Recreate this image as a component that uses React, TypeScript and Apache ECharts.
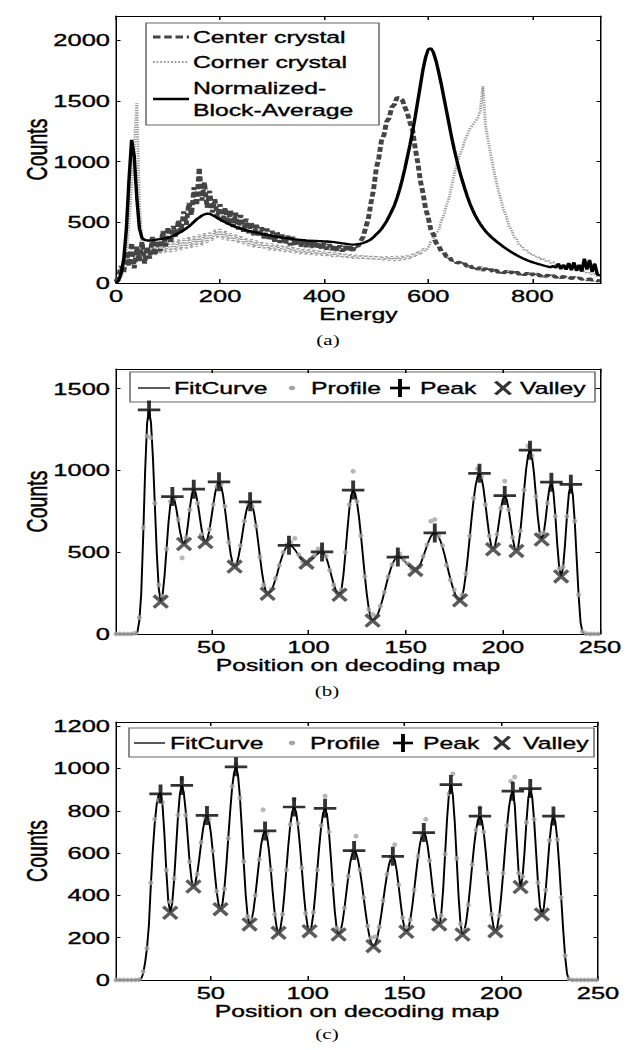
import React, { useEffect, useRef } from "react";
import * as echarts from "echarts";

// The reference figure is stretched horizontally; the chart is drawn in a
// narrower box and scaled back to the page width.
const S = 1.5;
const PAGE_W = 630;
const PAGE_H = 1050;
const CW = PAGE_W / S;
const X = (p: number) => p / S;
const FONT = "'Liberation Sans', Arial, Helvetica, sans-serif";
const SERIF = "'Liberation Serif', 'Times New Roman', serif";

// ---------- (a) energy spectra ----------
const energyStep = 5; // keV per sample, samples start at 0
const energyTicks = [0, 200, 400, 600, 800];
const countsTicksA = [0, 500, 1000, 1500, 2000];
const centerCrystal = [
  10, 60, 140, 90, 260, 140, 330, 120, 300, 180,
  340, 160, 300, 200, 380, 230, 350, 260, 430, 300,
  460, 330, 470, 380, 520, 420, 590, 480, 660, 560,
  790, 640, 950, 680, 830, 620, 760, 580, 690, 540,
  650, 500, 620, 480, 600, 460, 580, 440, 560, 420,
  530, 410, 500, 390, 480, 380, 460, 360, 450, 350,
  430, 340, 420, 330, 400, 320, 390, 310, 380, 305,
  370, 300, 360, 295, 350, 290, 345, 285, 335, 280,
  330, 275, 320, 270, 315, 265, 310, 260, 305, 258,
  300, 265, 310, 300, 345, 380, 460, 530, 660, 770,
  940, 1030, 1170, 1220, 1330, 1360, 1450, 1470, 1530, 1520,
  1510, 1450, 1400, 1320, 1260, 1110, 990, 840, 740, 610,
  540, 440, 400, 330, 310, 260, 255, 215, 220, 185,
  190, 165, 172, 148, 160, 135, 148, 122, 138, 112,
  128, 104, 120, 96, 114, 90, 108, 86, 102, 82,
  98, 78, 94, 74, 90, 70, 86, 66, 82, 62,
  78, 60, 74, 56, 70, 52, 66, 49, 62, 46,
  58, 43, 55, 40, 50, 37, 46, 33, 42, 30,
  38, 27, 34, 24, 30, 20, 18,
];
const cornerCrystal = [
  5, 15, 50, 120, 260, 500, 800, 1100, 1480, 650,
  330, 220, 290, 210, 300, 230, 320, 240, 330, 250,
  340, 250, 350, 260, 360, 270, 370, 280, 380, 290,
  390, 300, 400, 310, 410, 330, 420, 350, 440, 370,
  450, 360, 430, 350, 410, 340, 400, 330, 390, 320,
  370, 305, 360, 295, 350, 285, 340, 280, 330, 270,
  325, 265, 315, 260, 310, 255, 305, 250, 300, 245,
  290, 240, 285, 235, 280, 230, 275, 228, 270, 225,
  265, 220, 260, 215, 255, 212, 250, 208, 245, 205,
  240, 200, 235, 198, 232, 195, 230, 192, 228, 190,
  225, 188, 222, 186, 220, 185, 220, 183, 222, 185,
  225, 190, 232, 200, 245, 215, 262, 235, 285, 265,
  290, 340, 350, 410, 430, 510, 560, 640, 700, 800,
  900, 980, 1050, 1100, 1170, 1220, 1270, 1300, 1330, 1360,
  1420, 1620, 1300, 1180, 1060, 950, 850, 760, 680, 600,
  550, 470, 440, 380, 360, 310, 305, 268, 266, 238,
  240, 218, 220, 198, 204, 182, 188, 166, 172, 152,
  158, 138, 146, 126, 134, 114, 122, 102, 110, 90,
  98, 80, 86, 68, 74, 56, 54,
];
const blockAverage = [
  0, 20, 80, 200, 450, 850, 1180, 1050, 700, 450,
  370, 355, 350, 350, 352, 355, 360, 362, 365, 368,
  372, 380, 390, 400, 410, 422, 435, 450, 465, 485,
  505, 525, 540, 555, 565, 572, 570, 560, 548, 535,
  522, 510, 500, 490, 480, 470, 462, 455, 448, 442,
  436, 430, 425, 420, 415, 410, 405, 400, 396, 392,
  388, 384, 380, 377, 374, 371, 368, 365, 362, 360,
  357, 355, 353, 351, 350, 348, 347, 346, 345, 344,
  343, 342, 340, 338, 336, 333, 330, 327, 324, 321,
  318, 317, 318, 320, 324, 330, 338, 348, 360, 378,
  400, 420, 445, 475, 510, 550, 595, 640, 700, 770,
  850, 940, 1040, 1140, 1250, 1370, 1500, 1630, 1760, 1860,
  1925, 1935, 1900, 1830, 1740, 1640, 1530, 1420, 1310, 1200,
  1100, 1010, 925, 850, 780, 715, 655, 605, 560, 520,
  486, 455, 428, 404, 383, 364, 347, 330, 313, 297,
  282, 268, 254, 241, 229, 218, 207, 197, 188, 180,
  172, 165, 158, 152, 146, 140, 135, 130, 140, 125,
  160, 115, 150, 110, 165, 105, 170, 100, 150, 95,
  200, 110, 190, 90, 160, 70, 61,
];

// ---------- (b) and (c) decoding-map profiles ----------
const positionTicks = [50, 100, 150, 200, 250];
const profileStep = 2; // profile samples at positions 1, 3, 5, ...
const countsTicksB = [0, 500, 1000, 1500];
const countsTicksC = [0, 200, 400, 600, 800, 1000, 1200];

// FitCurve, positions 1..250
const fitCurveB = [
  0, 0, 0, 0, 0, 0, 0, 0, 0, 1,
  3, 10, 80, 250, 600, 1000, 1290, 1370, 1291, 1077,
  784, 491, 277, 198, 241, 359, 519, 680, 797, 840,
  821, 768, 695, 623, 569, 550, 582, 666, 769, 853,
  885, 863, 804, 724, 643, 584, 562, 580, 631, 705,
  787, 861, 912, 930, 910, 854, 770, 671, 572, 488,
  432, 412, 427, 470, 534, 610, 686, 750, 793, 808,
  791, 742, 668, 576, 478, 386, 312, 263, 246, 252,
  269, 297, 332, 370, 418, 456, 491, 519, 536, 542,
  539, 530, 516, 498, 480, 462, 448, 439, 436, 439,
  446, 456, 469, 482, 492, 499, 502, 494, 471, 437,
  394, 348, 305, 271, 248, 240, 271, 360, 489, 631,
  760, 849, 880, 861, 804, 716, 605, 481, 357, 246,
  158, 101, 82, 88, 104, 130, 166, 206, 252, 300,
  346, 386, 421, 448, 464, 470, 468, 461, 451, 438,
  424, 412, 401, 394, 392, 397, 413, 439, 470, 505,
  540, 571, 597, 613, 618, 612, 594, 566, 529, 486,
  438, 386, 338, 295, 258, 230, 212, 206, 225, 280,
  366, 474, 594, 714, 822, 908, 963, 982, 959, 895,
  801, 699, 605, 541, 518, 540, 600, 682, 764, 824,
  846, 823, 762, 677, 593, 531, 508, 538, 624, 748,
  884, 1008, 1094, 1124, 1087, 988, 851, 715, 615, 578,
  611, 699, 807, 895, 928, 873, 729, 551, 407, 352,
  405, 546, 721, 862, 915, 854, 689, 462, 236, 71,
  10, 3, 1, 0, 0, 0, 0, 0, 0, 0,
];
const profileB = [
  0, 0, 0, 0, 0, 5, 100, 650, 1210, 1200,
  800, 300, 230, 520, 810, 830, 700, 465, 590, 760,
  880, 800, 610, 560, 640, 790, 900, 915, 780, 560,
  430, 425, 540, 690, 800, 780, 660, 470, 300, 250,
  275, 340, 420, 500, 545, 560, 585, 485, 440, 430,
  455, 480, 520, 500, 475, 390, 300, 245, 270, 500,
  790, 995, 810, 600, 350, 150, 120, 110, 170, 255,
  350, 425, 470, 490, 455, 430, 400, 395, 410, 475,
  545, 690, 700, 600, 540, 420, 330, 270, 215, 240,
  370, 600, 830, 1010, 960, 790, 600, 530, 610, 770,
  935, 760, 590, 520, 630, 880, 1150, 1090, 840, 610,
  620, 800, 925, 720, 400, 410, 720, 900, 690, 240,
  15, 2, 0, 0, 0,
];
const peakPositionsB = [18, 30, 41, 54, 70, 90, 107, 123, 146, 165, 188, 201, 214, 225, 235];
const peakCountsB = [1370, 840, 885, 930, 808, 542, 502, 880, 470, 618, 982, 846, 1124, 928, 915];
const valleyPositionsB = [24, 36, 47, 62, 79, 99, 116, 133, 155, 178, 195, 207, 220, 230];
const valleyCountsB = [198, 550, 562, 412, 246, 436, 240, 82, 392, 206, 518, 508, 578, 352];

const fitCurveC = [
  0, 0, 0, 0, 0, 0, 0, 0, 0, 0,
  0, 0, 2, 5, 30, 80, 150, 260, 450, 610,
  740, 830, 875, 885, 831, 690, 515, 374, 320, 360,
  470, 620, 770, 880, 920, 888, 800, 681, 562, 474,
  442, 459, 506, 573, 649, 716, 763, 780, 758, 696,
  607, 508, 419, 357, 335, 361, 433, 543, 672, 800,
  910, 982, 1008, 971, 868, 718, 553, 403, 300, 263,
  280, 328, 400, 484, 568, 640, 688, 705, 681, 614,
  518, 410, 314, 247, 223, 246, 310, 407, 521, 634,
  731, 795, 818, 796, 732, 637, 525, 412, 317, 253,
  231, 253, 316, 411, 522, 632, 727, 790, 812, 783,
  700, 580, 447, 327, 244, 215, 230, 273, 338, 414,
  489, 554, 597, 612, 601, 569, 519, 456, 386, 316,
  253, 203, 171, 160, 170, 200, 248, 307, 373, 438,
  497, 545, 575, 585, 568, 518, 446, 367, 295, 245,
  228, 242, 283, 345, 422, 503, 580, 642, 683, 697,
  681, 634, 563, 480, 397, 326, 279, 263, 307, 428,
  594, 759, 880, 924, 876, 747, 570, 392, 262, 215,
  232, 281, 355, 446, 544, 635, 709, 758, 775, 754,
  696, 607, 503, 399, 311, 252, 231, 251, 308, 397,
  504, 620, 727, 815, 873, 893, 827, 667, 506, 440,
  484, 600, 745, 861, 905, 865, 756, 608, 459, 350,
  310, 341, 426, 543, 659, 744, 775, 746, 662, 536,
  388, 240, 113, 30, 0, 0, 0, 0, 0, 0,
  0, 0, 0, 0, 0, 0, 0, 0, 0, 0,
];
const profileC = [
  0, 0, 0, 0, 0, 0, 2, 40, 150, 460,
  760, 850, 840, 520, 370, 480, 780, 950, 780, 560,
  450, 500, 650, 770, 760, 610, 420, 340, 430, 670,
  915, 1020, 860, 560, 300, 285, 400, 570, 805, 690,
  520, 310, 225, 310, 520, 735, 855, 740, 530, 315,
  240, 320, 520, 730, 870, 700, 450, 245, 235, 340,
  490, 610, 680, 520, 390, 255, 200, 205, 250, 375,
  500, 580, 640, 450, 295, 250, 285, 425, 585, 690,
  760, 565, 400, 280, 305, 595, 880, 975, 575, 265,
  235, 355, 545, 710, 815, 700, 505, 310, 235, 305,
  505, 730, 940, 960, 505, 490, 745, 900, 760, 460,
  310, 425, 660, 775, 665, 390, 115, 5, 0, 0,
  0, 0, 0, 0, 0,
];
const peakPositionsC = [24, 35, 48, 63, 78, 93, 109, 124, 144, 160, 174, 189, 206, 215, 227];
const peakCountsC = [880, 920, 778, 1008, 705, 818, 812, 612, 585, 697, 924, 775, 893, 905, 775];
const valleyPositionsC = [29, 41, 55, 70, 85, 101, 116, 134, 151, 168, 180, 197, 210, 221];
const valleyCountsC = [318, 442, 335, 263, 223, 231, 215, 160, 228, 263, 215, 231, 440, 310];

const PLUS = "path://M0,7.5H14V10H0Z M5.8,0H8.2V17.5H5.8Z";
const CROSS = "path://M0,1.6L1.6,0L10,8.4L8.4,10Z M8.4,0L10,1.6L1.6,10L0,8.4Z";
const INK = { textBorderColor: "#000", textBorderWidth: 0.35 };

function axesFor(
  gridIndex: number,
  xMin: number,
  xMax: number,
  xTicks: number[],
  yMax: number,
  yTicks: number[],
  xName: string
) {
  const axisLine = { show: true, onZero: false, lineStyle: { color: "#000", width: 1 } };
  const tickStyle = { color: "#000", width: 1 };
  const plain = (v: number) => String(v);
  const xAxes = [
    {
      type: "value",
      gridIndex,
      min: xMin,
      max: xMax,
      position: "bottom",
      axisLine,
      axisTick: { show: true, inside: true, length: 4, customValues: xTicks, lineStyle: tickStyle },
      axisLabel: {
        show: true,
        customValues: xTicks,
        formatter: plain,
        margin: 5,
        color: "#000",
        fontSize: 17,
        fontFamily: FONT,
        ...INK,
      },
      splitLine: { show: false },
      name: xName,
      nameLocation: "middle",
      nameGap: 23,
      nameMoveOverlap: false,
      nameTextStyle: { color: "#000", fontSize: 16.5, fontFamily: FONT, ...INK },
    },
    {
      type: "value",
      gridIndex,
      min: xMin,
      max: xMax,
      position: "top",
      axisLine,
      axisTick: { show: true, inside: true, length: 4, customValues: xTicks, lineStyle: tickStyle },
      axisLabel: { show: false },
      splitLine: { show: false },
    },
  ];
  const yAxes = [
    {
      type: "value",
      gridIndex,
      min: 0,
      max: yMax,
      position: "left",
      axisLine,
      axisTick: { show: true, inside: true, length: 3, customValues: yTicks, lineStyle: tickStyle },
      axisLabel: {
        show: true,
        customValues: yTicks,
        formatter: plain,
        margin: 4,
        color: "#000",
        fontSize: 17,
        fontFamily: FONT,
        ...INK,
      },
      splitLine: { show: false },
      name: "Counts",
      nameLocation: "middle",
      nameGap: 43,
      nameMoveOverlap: false,
      nameTextStyle: { color: "#000", fontSize: 19.5, fontFamily: FONT, ...INK },
    },
    {
      type: "value",
      gridIndex,
      min: 0,
      max: yMax,
      position: "right",
      axisLine,
      axisTick: { show: true, inside: true, length: 3, customValues: yTicks, lineStyle: tickStyle },
      axisLabel: { show: false },
      splitLine: { show: false },
    },
  ];
  return { xAxes, yAxes };
}

function profileSeries(
  axisIndex: number,
  fit: number[],
  profile: number[],
  peakPos: number[],
  peakVal: number[],
  valleyPos: number[],
  valleyVal: number[]
) {
  return [
    {
      type: "line",
      name: "FitCurve",
      xAxisIndex: axisIndex,
      yAxisIndex: axisIndex,
      data: fit.map((v, i) => [i + 1, v]),
      symbol: "none",
      lineStyle: { color: "#000", width: 1.3 },
      z: 3,
    },
    {
      type: "scatter",
      name: "Profile",
      xAxisIndex: axisIndex,
      yAxisIndex: axisIndex,
      data: profile.map((v, i) => [1 + i * profileStep, v]),
      symbol: "circle",
      symbolSize: [3.4, 4.8],
      itemStyle: { color: "#a5a5a5" },
      z: 4,
    },
    {
      type: "scatter",
      name: "Peak",
      xAxisIndex: axisIndex,
      yAxisIndex: axisIndex,
      data: peakPos.map((p, i) => [p, peakVal[i]]),
      symbol: PLUS,
      symbolSize: [15, 19],
      itemStyle: { color: "#000" },
      z: 5,
    },
    {
      type: "scatter",
      name: "Valley",
      xAxisIndex: axisIndex,
      yAxisIndex: axisIndex,
      data: valleyPos.map((p, i) => [p, valleyVal[i]]),
      symbol: CROSS,
      symbolSize: [11, 14.5],
      itemStyle: { color: "#333" },
      z: 5,
    },
  ];
}

function txt(text: string, x: number, y: number, size = 16.5, family = FONT, align = "left", ink = true) {
  return {
    type: "text",
    x,
    y,
    style: {
      text,
      fill: "#000",
      fontSize: size,
      fontFamily: family,
      align,
      verticalAlign: "middle",
      textAlign: align,
      textVerticalAlign: "middle",
      stroke: ink ? "#000" : null,
      lineWidth: ink ? 0.35 : 0,
    },
  };
}

function hline(x1: number, x2: number, y: number, stroke: string, lineWidth: number, lineDash?: number[]) {
  return {
    type: "line",
    shape: { x1: X(x1), y1: y, x2: X(x2), y2: y },
    style: { stroke, lineWidth, lineDash: lineDash || null },
  };
}

function markerLegend(
  box: [number, number, number, number],
  cy: number,
  lx: [number, number],
  fitX: number,
  dotX: number,
  profX: number,
  plusX: number,
  peakX: number,
  crossX: number,
  valleyX: number
) {
  return [
    {
      type: "rect",
      shape: { x: X(box[0]), y: box[1], width: X(box[2] - box[0]), height: box[3] - box[1] },
      style: { fill: "#fff", stroke: "#666", lineWidth: 1 },
    },
    hline(lx[0], lx[1], cy, "#000", 1.3),
    txt("FitCurve", X(fitX), cy),
    { type: "circle", shape: { cx: X(dotX), cy, r: 2.2 }, style: { fill: "#a5a5a5" } },
    txt("Profile", X(profX), cy),
    hline(plusX - 10, plusX + 10, cy, "#000", 2.6),
    {
      type: "line",
      shape: { x1: X(plusX), y1: cy - 9, x2: X(plusX), y2: cy + 9 },
      style: { stroke: "#000", lineWidth: 2.6 },
    },
    txt("Peak", X(peakX), cy),
    {
      type: "line",
      shape: { x1: X(crossX - 7.5), y1: cy - 6.5, x2: X(crossX + 7.5), y2: cy + 6.5 },
      style: { stroke: "#333", lineWidth: 2.6 },
    },
    {
      type: "line",
      shape: { x1: X(crossX - 7.5), y1: cy + 6.5, x2: X(crossX + 7.5), y2: cy - 6.5 },
      style: { stroke: "#333", lineWidth: 2.6 },
    },
    txt("Valley", X(valleyX), cy),
  ];
}

export default function App() {
  const ref = useRef<HTMLDivElement>(null);

  useEffect(() => {
    if (!ref.current) return;
    const chart = echarts.init(ref.current, null, { renderer: "svg" });

    const a = axesFor(0, 0, 932, energyTicks, 2200, countsTicksA, "Energy");
    const b = axesFor(1, 1, 250, positionTicks, 1620, countsTicksB, "Position on decoding map");
    const c = axesFor(2, 1, 250, positionTicks, 1220, countsTicksC, "Position on decoding map");

    const legendA = [
      {
        type: "rect",
        shape: { x: X(146), y: 23, width: X(379 - 146), height: 102 },
        style: { fill: "#fff", stroke: "#666", lineWidth: 1 },
      },
      hline(153, 189, 37, "#444", 3, [5, 2.5]),
      hline(153, 189, 62, "#9c9c9c", 2, [1.2, 1.2]),
      hline(153, 189, 99, "#000", 2.5),
      txt("Center crystal", X(193), 37),
      txt("Corner crystal", X(193), 62),
      txt("Normalized-", X(193), 88),
      txt("Block-Average", X(193), 110),
    ];

    const legendB = markerLegend([130, 372, 595, 402], 388, [138, 170], 174, 292, 311, 400, 420, 503, 520);
    const legendC = markerLegend([129, 728, 594, 757], 743, [134, 165], 170, 292, 310, 403, 423, 502, 523);

    const captions = [
      txt("(a)", X(328), 340, 14, SERIF, "center", false),
      txt("(b)", X(327), 691, 14, SERIF, "center", false),
      txt("(c)", X(327), 1034, 14, SERIF, "center", false),
    ];

    chart.setOption({
      animation: false,
      backgroundColor: "#fff",
      grid: [
        { left: X(116), top: 16, width: X(485), height: 267, containLabel: false, outerBoundsMode: "none" },
        { left: X(116), top: 369, width: X(484), height: 265, containLabel: false, outerBoundsMode: "none" },
        { left: X(116), top: 722, width: X(482), height: 258, containLabel: false, outerBoundsMode: "none" },
      ],
      xAxis: [...a.xAxes, ...b.xAxes, ...c.xAxes],
      yAxis: [...a.yAxes, ...b.yAxes, ...c.yAxes],
      series: [
        {
          type: "line",
          name: "Corner crystal",
          xAxisIndex: 0,
          yAxisIndex: 0,
          data: cornerCrystal.map((v, i) => [i * energyStep, v]),
          symbol: "none",
          lineStyle: { color: "#9c9c9c", width: 2, type: [1.2, 1.2] },
          z: 2,
        },
        {
          type: "line",
          name: "Center crystal",
          xAxisIndex: 0,
          yAxisIndex: 0,
          data: centerCrystal.map((v, i) => [i * energyStep, v]),
          symbol: "none",
          lineStyle: { color: "#444", width: 3.3, type: [5, 2.5] },
          z: 3,
        },
        {
          type: "line",
          name: "Normalized-Block-Average",
          xAxisIndex: 0,
          yAxisIndex: 0,
          data: blockAverage.map((v, i) => [i * energyStep, v]),
          symbol: "none",
          lineStyle: { color: "#000", width: 2.3 },
          z: 4,
        },
        ...profileSeries(2, fitCurveB, profileB, peakPositionsB, peakCountsB, valleyPositionsB, valleyCountsB),
        ...profileSeries(4, fitCurveC, profileC, peakPositionsC, peakCountsC, valleyPositionsC, valleyCountsC),
      ],
      graphic: [
        { type: "group", z: 100, children: [...legendA, ...legendB, ...legendC, ...captions] },
      ],
    });

    return () => chart.dispose();
  }, []);

  return (
    <div
      ref={ref}
      style={{
        position: "absolute",
        left: 0,
        top: 0,
        width: CW,
        height: PAGE_H,
        transform: `scaleX(${S})`,
        transformOrigin: "0 0",
        background: "#fff",
      }}
    />
  );
}
